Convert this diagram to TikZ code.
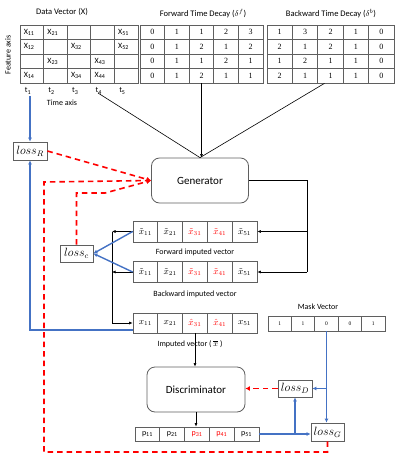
\documentclass[tikz,border=0pt]{standalone}
\usepackage{fontspec}
\setmainfont{Carlito}
\newfontfamily\tnr{Liberation Serif}
\usetikzlibrary{calc,arrows.meta}
\definecolor{bl}{RGB}{68,114,196}
\definecolor{gr}{RGB}{95,95,95}
\begin{document}
\begin{tikzpicture}[x=1pt,y=-1pt,
  cell/.style={draw=gr, line width=0.7pt, inner sep=0pt, anchor=center},
  ttl/.style={font=\fontsize{8.5}{10}\selectfont, inner sep=1pt},
  lbl/.style={font=\fontsize{8}{9}\selectfont, inner sep=1pt},
  lossbox/.style={draw=gr, line width=0.8pt, fill=white, inner sep=0pt, font=\fontsize{11.5}{13}\selectfont},
  blk/.style={draw=black, line width=0.6pt},
  blkarr/.style={blk, -{Latex[length=3.5pt,width=3pt]}},
  blu/.style={draw=bl, line width=1.4pt, -{Latex[length=4pt,width=4pt]}},
  rdd/.style={draw=red, line width=1.6pt, dash pattern=on 5.5pt off 4pt, -{Latex[length=4.5pt,width=5pt]}},
  proc/.style={draw=gr, line width=0.8pt, rounded corners=8pt, fill=white, minimum width=97pt, minimum height=45pt, font=\fontsize{11}{13}\selectfont}
]
\useasboundingbox (0,0) rectangle (410,472);

% ---------- data vector ----------
\node[ttl] (tdv) at (62,12) {Data Vector (X)};
\foreach \row [count=\r] in {{X\textsubscript{11},X\textsubscript{21},{},{},X\textsubscript{51}},{X\textsubscript{12},{},X\textsubscript{32},{},X\textsubscript{52}},{{},X\textsubscript{23},{},X\textsubscript{43},{}},{X\textsubscript{14},{},X\textsubscript{34},X\textsubscript{44},{}}}
  \foreach \v [count=\c] in \row
    \node[cell, minimum width=23.6pt, minimum height=14.5pt, text width=16pt, align=left, font=\fontsize{8}{9}\selectfont] (dv-\r-\c) at ({20+23.6*(\c-0.5)},{25+14.5*(\r-0.5)}) {\v};
\foreach \c in {1,...,5}
  \node[lbl] (t\c) at ({20+23.6*(\c-1)+8},91) {t\textsubscript{\c}};
\node[lbl] (ta) at (62,103) {Time axis};
\node[lbl, rotate=90] (fa) at (8,55) {Feature axis};

% ---------- forward decay ----------
\node[ttl] (tfw) at (203,14) {Forward Time Decay ($\delta^f$)};
\foreach \row [count=\r] in {{0,1,1,2,3},{0,1,2,1,2},{0,1,1,2,1},{0,1,2,1,1}}
  \foreach \v [count=\c] in \row
    \node[cell, minimum width=24.6pt, minimum height=14.5pt, font=\tnr\fontsize{8}{9}\selectfont] (fw-\r-\c) at ({140+24.6*(\c-0.5)},{25+14.5*(\r-0.5)}) {\v};

% ---------- backward decay ----------
\node[ttl] (tbw) at (331,14) {Backward Time Decay ($\delta^b$)};
\foreach \row [count=\r] in {{1,3,2,1,0},{2,1,2,1,0},{1,2,1,1,0},{2,1,1,1,0}}
  \foreach \v [count=\c] in \row
    \node[cell, minimum width=25.4pt, minimum height=14.5pt, font=\tnr\fontsize{8}{9}\selectfont] (bw-\r-\c) at ({267+25.4*(\c-0.5)},{25+14.5*(\r-0.5)}) {\v};

% ---------- generator ----------
\node[proc] (gen) at (200,180.5) {Generator};

% ---------- imputed vectors ----------
\foreach \col/\v [count=\c] in {black/{$\tilde{x}_{11}$},black/{$\tilde{x}_{21}$},red/{$\tilde{x}_{31}$},red/{$\tilde{x}_{41}$},black/{$\tilde{x}_{51}$}}
  \node[cell, minimum width=24.8pt, minimum height=21pt, text=\col, font=\fontsize{9}{10}\selectfont] (fv-\c) at ({133+24.8*(\c-0.5)},231.5) {\v};
\node[lbl] (lfv) at (195,252) {Forward imputed vector};
\foreach \col/\v [count=\c] in {black/{$\tilde{x}_{11}$},black/{$\tilde{x}_{21}$},red/{$\tilde{x}_{31}$},red/{$\tilde{x}_{41}$},black/{$\tilde{x}_{51}$}}
  \node[cell, minimum width=24.8pt, minimum height=21pt, text=\col, font=\fontsize{9}{10}\selectfont] (bv-\c) at ({133+24.8*(\c-0.5)},272) {\v};
\node[lbl] (lbv) at (195,294) {Backward imputed vector};
\foreach \col/\v [count=\c] in {black/{$x_{11}$},black/{$x_{21}$},red/{$\hat{x}_{31}$},red/{$\hat{x}_{41}$},black/{$x_{51}$}}
  \node[cell, minimum width=24.8pt, minimum height=20pt, text=\col, font=\fontsize{9}{10}\selectfont] (iv-\c) at ({133+24.8*(\c-0.5)},323) {\v};
\node[lbl] (liv) at (190,344) {Imputed vector ( $\overline{x}$ )};

% ---------- mask vector ----------
\node[lbl] (tmk) at (318,307) {Mask Vector};
\foreach \v [count=\c] in {1,1,0,0,1}
  \node[cell, minimum width=23.4pt, minimum height=15pt, font=\tnr\fontsize{5.5}{6}\selectfont] (mk-\c) at ({268+23.4*(\c-0.5)},323.5) {\v};

% ---------- discriminator & output ----------
\node[proc, minimum width=98pt] (disc) at (196,389.5) {Discriminator};
\foreach \col/\v [count=\c] in {black/{p\textsubscript{11}},black/{p\textsubscript{21}},red/{p\textsubscript{31}},red/{p\textsubscript{41}},black/{p\textsubscript{51}}}
  \node[cell, minimum width=24.8pt, minimum height=14pt, text=\col, font=\fontsize{8}{9}\selectfont] (pv-\c) at ({135+24.8*(\c-0.5)},434) {\v};

% ---------- losses ----------
\node[lossbox, minimum width=34pt, minimum height=18pt] (lossR) at (30,151) {$loss_R$};
\node[lossbox, minimum width=33pt, minimum height=17pt] (lossc) at (76.5,253.5) {$loss_c$};
\node[lossbox, minimum width=34pt, minimum height=17pt] (lossD) at (295,388.5) {$loss_D$};
\node[lossbox, minimum width=33pt, minimum height=18pt] (lossG) at (327.5,432) {$loss_G$};

% ---------- black connectors ----------
\coordinate (dvo) at (98,93);
\draw[blk] (dvo) -- (gen.north);
\draw[blk] ($(bw-4-3.south)+(-6,0)$) -- (gen.north);
\draw[blkarr] (fw-4-3.south) -- (fw-4-3.south |- gen.north);
\coordinate (rt) at (307,180.5);
\coordinate (rb) at (307,272);
\draw[blk] (gen.east) -- (rt) -- (rb);
\draw[blkarr] (rb) -- (bv-5.east);
\draw[blkarr] (rt |- fv-5.east) -- (fv-5.east);
\coordinate (lj) at (112,231.5);
\draw[blkarr] (fv-1.west) -- (fv-1.west -| lj);
\draw[blkarr] (bv-1.west) -- (bv-1.west -| lj);
\draw[blkarr] (fv-1.west -| lj) |- (iv-1.west);
\draw[blkarr] (iv-3.south) -- (iv-3.south |- disc.north);
\draw[blkarr] (disc.south) -- (disc.south |- pv-3.north);

% ---------- blue connectors ----------
\coordinate (xb) at (30,96);
\draw[blu] (xb) -- (lossR.north);
\draw[blu] ($(iv-1.west)+(0,7)$) -| (lossR.south);
\draw[blu] (fv-1.west) -- (lossc.east);
\draw[blu] (bv-1.west) -- (lossc.east);
\draw[blu] (mk-3.south) -- (mk-3.south |- lossG.north);
\draw[blu] (mk-3.south |- lossD.east) -- (lossD.east);
\draw[blu] (pv-5.east) -- (pv-5.east -| lossG.west);
\draw[blu] (pv-5.east -| lossD.south) -- (lossD.south);

% ---------- red dashed connectors ----------
\coordinate (rbl) at (44,452);
\coordinate (rtl) at (44,182);
\coordinate (rcm) at (105,193);
\draw[rdd] (lossR.east) -- (gen.west);
\draw[rdd] (lossG.south) |- (rbl) -- (rtl) -- (gen.west);
\draw[rdd] (lossc.north) |- (rcm) -- (gen.west);
\draw[rdd] (lossD.west) -- (lossD.west -| disc.east);
\end{tikzpicture}
\end{document}
